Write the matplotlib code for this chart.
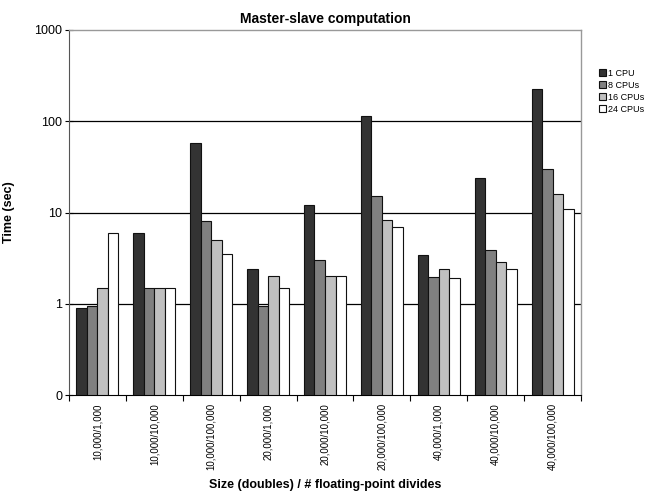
import matplotlib
matplotlib.use("Agg")
import matplotlib.pyplot as plt
import numpy as np
from matplotlib.ticker import FixedLocator, NullFormatter, FixedFormatter

plt.rcParams['font.family'] = ['Liberation Sans', 'DejaVu Sans']

categories = ["10,000/1,000", "10,000/10,000", "10,000/100,000",
              "20,000/1,000", "20,000/10,000", "20,000/100,000",
              "40,000/1,000", "40,000/10,000", "40,000/100,000"]
series_names = ["1 CPU", "8 CPUs", "16 CPUs", "24 CPUs"]
cpu1 = [0.9, 6, 58, 2.4, 12, 115, 3.4, 24, 225]
cpu8 = [0.95, 1.5, 8, 0.95, 3, 15.3, 1.95, 3.9, 30]
cpu16 = [1.5, 1.5, 5, 2, 2, 8.3, 2.4, 2.9, 16]
cpu24 = [6, 1.5, 3.5, 1.5, 2, 7, 1.9, 2.4, 11]
colors = ["#333333", "#808080", "#C0C0C0", "#FFFFFF"]
y_ticks = [0.1, 1, 10, 100, 1000]
y_labels = ["0", "1", "10", "100", "1000"]

fig = plt.figure(figsize=(6.47, 5.0), dpi=100)
ax = fig.add_axes([69/647, 1-395/500, (581-69)/647, (395-30)/500])

ax.set_yscale("log")
ax.set_ylim(0.1, 1000)
n = len(categories)
x = np.arange(n)
bw = 0.185
base = 0.1
for i, (vals, c, name) in enumerate(zip([cpu1, cpu8, cpu16, cpu24], colors, series_names)):
    v = np.array(vals)
    ax.bar(x + (i - 1.5) * bw, v - base, bottom=base, width=bw, color=c,
           edgecolor="#111111", linewidth=0.8, label=name, zorder=3)

ax.set_xlim(-0.5, n - 0.5)
for yv in [1, 10, 100]:
    ax.axhline(yv, color="black", linewidth=0.9, zorder=1)

ax.yaxis.set_major_locator(FixedLocator(y_ticks))
ax.yaxis.set_major_formatter(FixedFormatter(y_labels))
ax.yaxis.set_minor_locator(FixedLocator([]))
ax.tick_params(axis="y", which="major", direction="inout", length=6, width=0.8,
               labelsize=9, pad=2)

ax.set_xticks(x)
ax.set_xticklabels(categories, rotation=90, fontsize=7)
ax.tick_params(axis="x", which="major", length=0, pad=6)
ax.xaxis.set_minor_locator(FixedLocator(np.arange(n + 1) - 0.5))
ax.xaxis.set_minor_formatter(NullFormatter())
ax.tick_params(axis="x", which="minor", direction="out", length=4, width=0.8)

for s in ["top", "right"]:
    ax.spines[s].set_color("#999999")
    ax.spines[s].set_linewidth(1.0)
ax.spines["left"].set_color("#555555")
ax.spines["bottom"].set_color("black")

ax.set_title("Master-slave computation", fontsize=10, fontweight="bold", pad=5)
ax.set_ylabel("Time (sec)", fontsize=9, fontweight="bold", labelpad=14)
ax.set_xlabel("Size (doubles) / # floating-point divides", fontsize=9,
              fontweight="bold", labelpad=6)

leg = fig.legend(loc="upper left", bbox_to_anchor=(594/647, 1-64/500),
                 fontsize=6.5, frameon=False, handlelength=0.8, handleheight=0.8,
                 handletextpad=0.3, labelspacing=0.35, borderpad=0)

fig.savefig("out.png", dpi=100)
